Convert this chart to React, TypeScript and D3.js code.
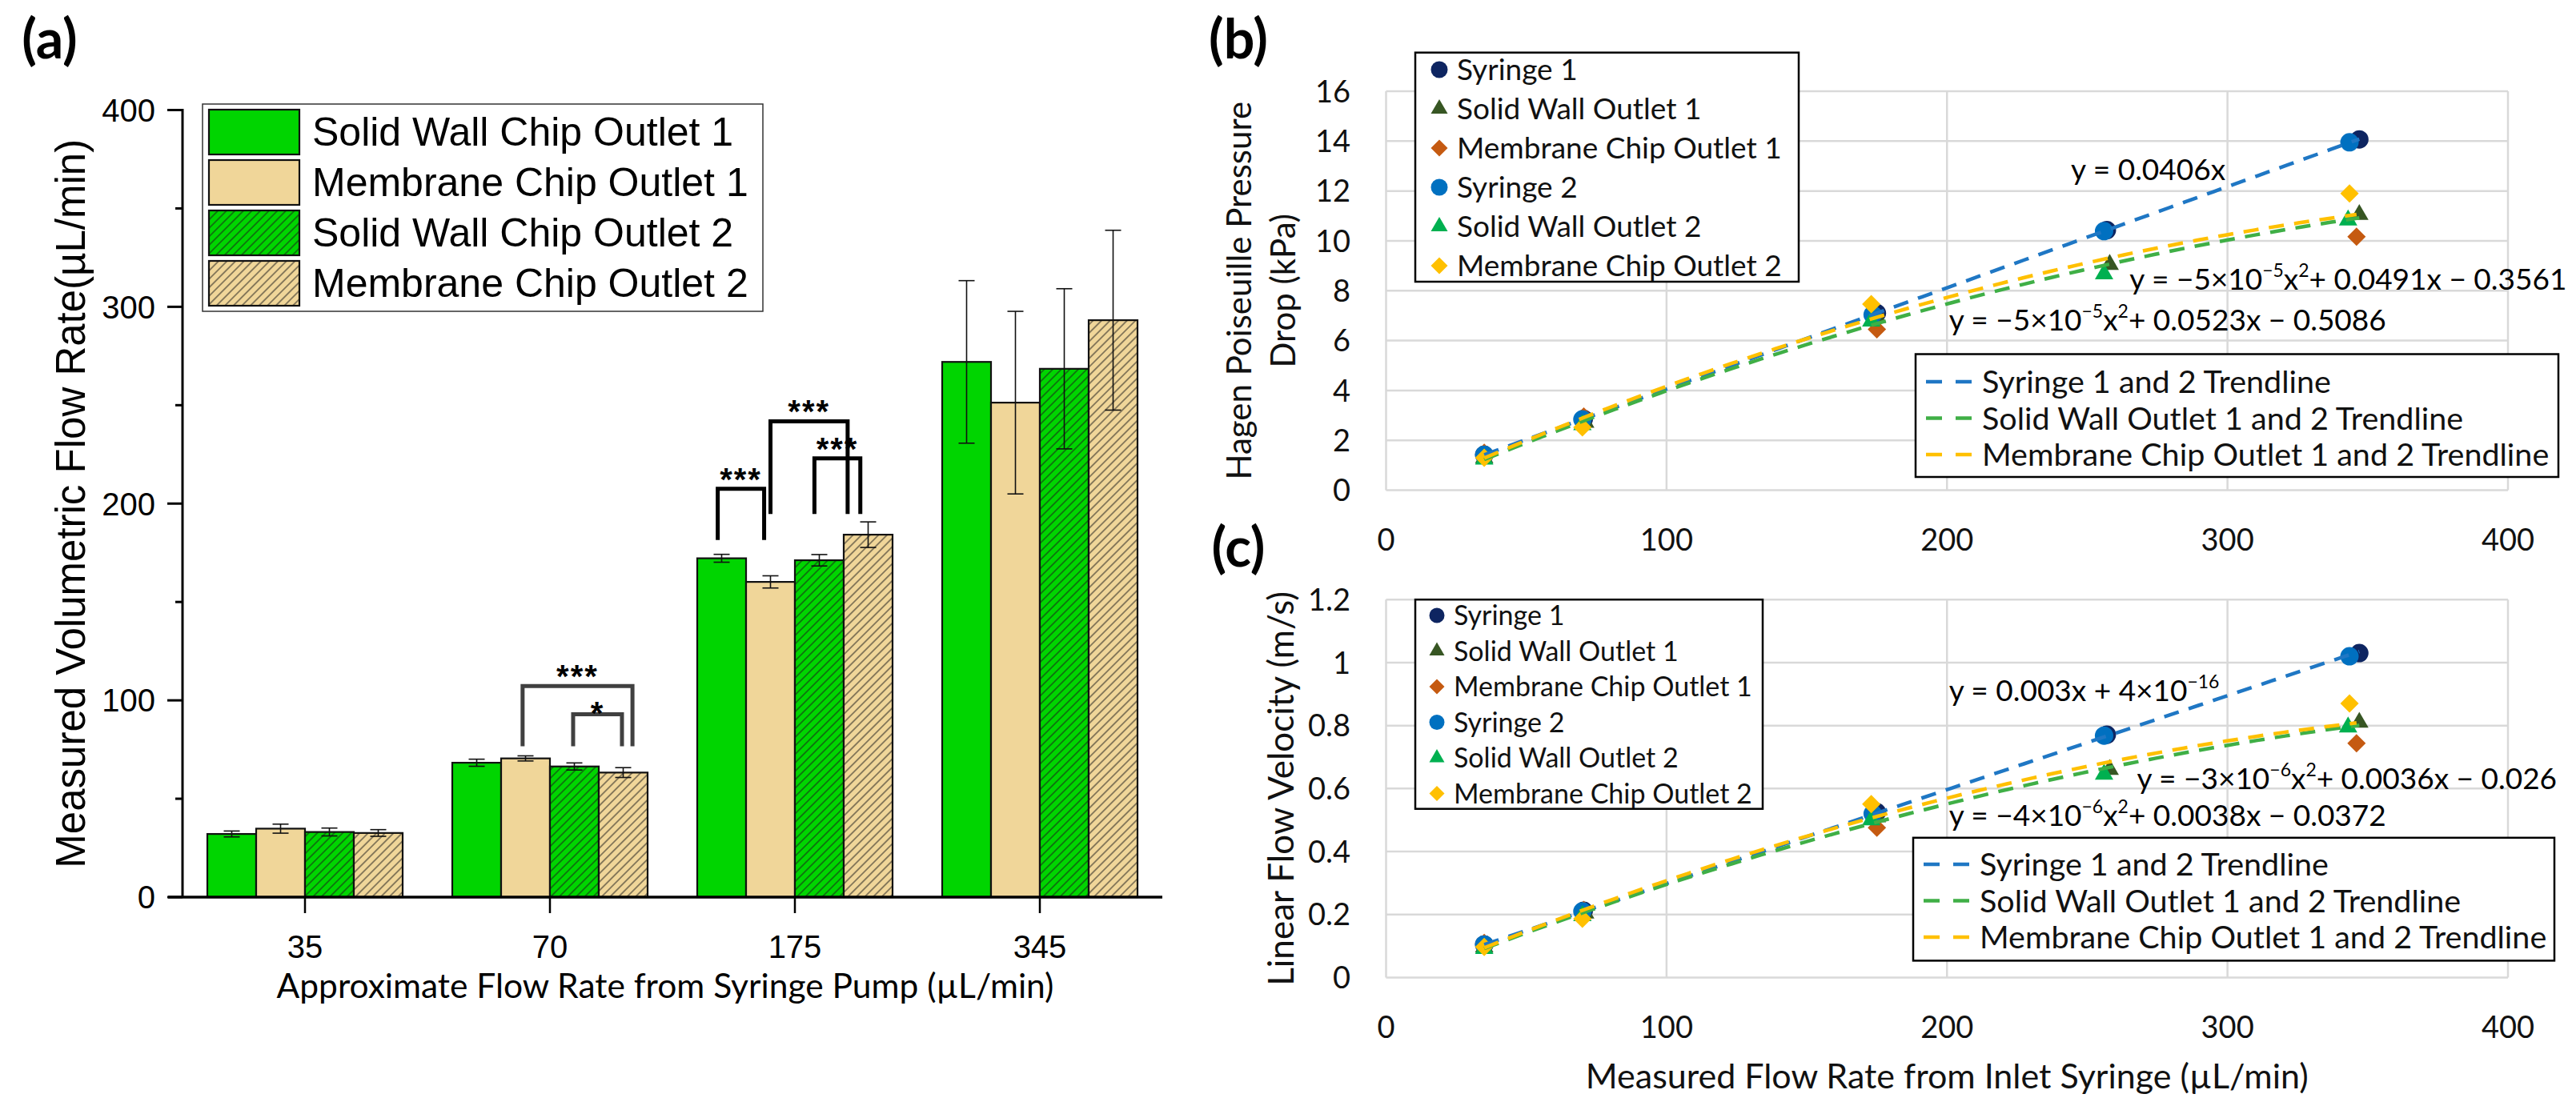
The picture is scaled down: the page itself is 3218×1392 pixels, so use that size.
import { useEffect } from "react";
import * as d3 from "d3";

const W = 3218;
const H = 1392;
const ARIAL = "'Liberation Sans', Arial, sans-serif";
const EXCEL = "Lato, 'Open Sans', sans-serif";

// ---------- panel (a): bar chart data ----------
const flowSettings = ["35", "70", "175", "345"];
const barSeriesNames = [
  "Solid Wall Chip Outlet 1",
  "Membrane Chip Outlet 1",
  "Solid Wall Chip Outlet 2",
  "Membrane Chip Outlet 2",
];
const solidWall1Mean = [32.1, 68.3, 172.2, 272.0];
const solidWall1Err = [1.5, 1.8, 2.0, 41.3];
const membrane1Mean = [34.8, 70.5, 160.2, 251.3];
const membrane1Err = [2.3, 1.3, 3.1, 46.4];
const solidWall2Mean = [33.1, 66.4, 171.2, 268.5];
const solidWall2Err = [2.0, 1.8, 2.9, 40.7];
const membrane2Mean = [32.6, 63.3, 184.2, 293.2];
const membrane2Err = [1.7, 2.5, 6.5, 45.7];

// significance brackets (bar-slot positions within a group, values in µL/min)
const sigCategory = ["70", "70", "175", "175", "175"];
const sigFrom = [0.94, 1.975, -0.08, 1.0, 1.9];
const sigTo = [3.19, 2.975, 0.87, 2.58, 2.84];
const sigTop = [107.3, 92.9, 207.5, 241.8, 223.0];
const sigLegEnd = [76.7, 76.7, 181.5, 194.7, 194.7];
const sigLabel = ["***", "*", "***", "***", "***"];

// ---------- panels (b) and (c): scatter data ----------
const scatterNames = [
  "Syringe 1",
  "Solid Wall Outlet 1",
  "Membrane Chip Outlet 1",
  "Syringe 2",
  "Solid Wall Outlet 2",
  "Membrane Chip Outlet 2",
];
const syringe1Flow = [35, 70.5, 175, 257, 347];
const syringe1Pressure = [1.42, 2.86, 7.1, 10.43, 14.07];
const syringe1Velocity = [0.105, 0.212, 0.525, 0.771, 1.03];
const solidWall1Flow = [35, 71, 175, 258, 347];
const solidWall1Pressure = [1.3, 2.72, 6.92, 9.05, 11.05];
const solidWall1Velocity = [0.097, 0.204, 0.51, 0.66, 0.81];
const membrane1Flow = [35, 70.5, 175, 346];
const membrane1Pressure = [1.5, 2.95, 6.45, 10.17];
const membrane1Velocity = [0.11, 0.215, 0.476, 0.744];
const syringe2Flow = [35, 70, 173.5, 256, 343.5];
const syringe2Pressure = [1.42, 2.84, 7.04, 10.39, 13.95];
const syringe2Velocity = [0.105, 0.21, 0.52, 0.768, 1.02];
const solidWall2Flow = [35, 70, 173, 256, 343];
const solidWall2Pressure = [1.24, 2.62, 6.78, 8.67, 10.83];
const solidWall2Velocity = [0.092, 0.196, 0.5, 0.645, 0.795];
const membrane2Flow = [35, 70, 173, 343.5];
const membrane2Pressure = [1.3, 2.52, 7.46, 11.9];
const membrane2Velocity = [0.097, 0.187, 0.551, 0.87];

const trendNames = [
  "Syringe 1 and 2 Trendline",
  "Solid Wall Outlet 1 and 2 Trendline",
  "Membrane Chip Outlet 1 and 2 Trendline",
];

type Seg = [string, boolean];
const pressureEquations: Seg[][] = [
  [["y = 0.0406x", false]],
  [["y = −5×10", false], ["−5", true], ["x", false], ["2", true], ["+ 0.0491x − 0.3561", false]],
  [["y = −5×10", false], ["−5", true], ["x", false], ["2", true], ["+ 0.0523x − 0.5086", false]],
];
const pressureEqX = [244.2, 265.1, 200.7];
const pressureEqY = [12.45, 8.04, 6.41];
const velocityEquations: Seg[][] = [
  [["y = 0.003x + 4×10", false], ["−16", true]],
  [["y = −3×10", false], ["−6", true], ["x", false], ["2", true], ["+ 0.0036x − 0.026", false]],
  [["y = −4×10", false], ["−6", true], ["x", false], ["2", true], ["+ 0.0038x − 0.0372", false]],
];
const velocityEqX = [200.7, 267.7, 200.7];
const velocityEqY = [0.878, 0.599, 0.4825];

// ---------- styles ----------
const GREEN = "#00D500";
const TAN = "#F0D699";
const markerColors = ["#0E2561", "#375623", "#C55A11", "#0070C0", "#00B050", "#FFC000"];
const markerShapes = ["circle", "triangle", "diamond", "circle", "triangle", "diamond"];
const trendColors = ["#1F77C4", "#3FAF46", "#FFC000"];
const GRID = "#D9D9D9";

function symbolPath(shape: string, size: number) {
  if (shape === "circle") return d3.symbol(d3.symbolCircle, (Math.PI * size * size) / 4)()!;
  if (shape === "triangle") return d3.symbol(d3.symbolTriangle, (Math.sqrt(3) / 4) * size * size)()!;
  return d3.symbol(d3.symbolSquare, (size * size) / 2)()!;
}

function Marker({ shape, x, y, size, color }: { shape: string; x: number; y: number; size: number; color: string }) {
  const rot = shape === "diamond" ? " rotate(45)" : "";
  return <path d={symbolPath(shape, size)} transform={`translate(${x},${y})${rot}`} fill={color} />;
}

// least squares fits (Excel trendlines)
function fitProportional(xs: number[], ys: number[]) {
  const m = d3.sum(xs, (x, i) => x * ys[i]) / d3.sum(xs, (x) => x * x);
  return (x: number) => m * x;
}

function fitQuadratic(xs: number[], ys: number[]) {
  const s = (p: number) => d3.sum(xs, (x) => x ** p);
  const t = (p: number) => d3.sum(xs, (x, i) => x ** p * ys[i]);
  const M = [
    [s(4), s(3), s(2), t(2)],
    [s(3), s(2), s(1), t(1)],
    [s(2), s(1), xs.length, t(0)],
  ];
  for (let c = 0; c < 3; c++) {
    for (let r = 0; r < 3; r++) {
      if (r === c) continue;
      const f = M[r][c] / M[c][c];
      for (let k = c; k < 4; k++) M[r][k] -= f * M[c][k];
    }
  }
  const a = M[0][3] / M[0][0];
  const b = M[1][3] / M[1][1];
  const c0 = M[2][3] / M[2][2];
  return (x: number) => a * x * x + b * x + c0;
}

// ---------- panel (a) ----------
function BarPanel() {
  const y = d3.scaleLinear().domain([0, 400]).range([1121, 137.5]);
  const x0 = d3.scaleBand().domain(flowSettings).range([228, 1452]);
  const x1 = d3.scaleBand().domain(barSeriesNames).range([0, 244]);
  const inset = (x0.bandwidth() - 244) / 2;
  const bw = x1.bandwidth();

  const series = [
    { name: barSeriesNames[0], mean: solidWall1Mean, err: solidWall1Err, fill: GREEN },
    { name: barSeriesNames[1], mean: membrane1Mean, err: membrane1Err, fill: TAN },
    { name: barSeriesNames[2], mean: solidWall2Mean, err: solidWall2Err, fill: "url(#hatch-green)" },
    { name: barSeriesNames[3], mean: membrane2Mean, err: membrane2Err, fill: "url(#hatch-tan)" },
  ];

  const slotX = (cat: string, slot: number) => x0(cat)! + inset + (slot + 0.5) * bw;
  const majorTicks = y.ticks(4);
  const minorTicks = d3.range(50, 400, 100);
  const starSize = 40;

  return (
    <g>
      <text x={62} y={73} fontFamily={EXCEL} fontWeight={700} fontSize={68} textAnchor="middle">
        (a)
      </text>

      {/* bars */}
      {series.map((s) =>
        flowSettings.map((cat, i) => (
          <rect
            key={s.name + cat}
            x={x0(cat)! + inset + x1(s.name)!}
            y={y(s.mean[i])}
            width={bw}
            height={y(0) - y(s.mean[i])}
            fill={s.fill}
            stroke="#111"
            strokeWidth={2.2}
          />
        ))
      )}

      {/* error bars */}
      {series.map((s, si) =>
        flowSettings.map((cat, i) => {
          const cx = slotX(cat, si);
          const y1 = y(s.mean[i] + s.err[i]);
          const y2 = y(s.mean[i] - s.err[i]);
          return (
            <g key={"e" + s.name + cat} stroke="#111" strokeWidth={1.6}>
              <line x1={cx} x2={cx} y1={y1} y2={y2} />
              <line x1={cx - 10} x2={cx + 10} y1={y1} y2={y1} />
              <line x1={cx - 10} x2={cx + 10} y1={y2} y2={y2} />
            </g>
          );
        })
      )}

      {/* significance brackets */}
      {sigCategory.map((cat, i) => {
        const xa = slotX(cat, sigFrom[i]);
        const xb = slotX(cat, sigTo[i]);
        const yt = y(sigTop[i]);
        const yl = y(sigLegEnd[i]);
        const color = cat === "70" ? "#404040" : "#000";
        const nudge = sigLabel[i] === "*" ? 6 : -4;
        return (
          <g key={"sig" + i}>
            <path
              d={`M${xa},${yl}V${yt}H${xb}V${yl}`}
              fill="none"
              stroke={color}
              strokeWidth={5}
              strokeLinejoin="miter"
            />
            <text
              x={(xa + xb) / 2}
              y={yt - 17 + nudge + 0.575 * starSize}
              textAnchor="middle"
              fontFamily={ARIAL}
              fontWeight={700}
              fontSize={starSize}
              letterSpacing={2}
            >
              {sigLabel[i]}
            </text>
          </g>
        );
      })}

      {/* axes */}
      <line x1={228} x2={228} y1={y(400) - 1.5} y2={y(0)} stroke="#000" strokeWidth={3} />
      <line x1={210} x2={1452} y1={y(0)} y2={y(0)} stroke="#000" strokeWidth={3.5} />
      {majorTicks.map((t) => (
        <g key={"yt" + t}>
          <line x1={209} x2={228} y1={y(t)} y2={y(t)} stroke="#000" strokeWidth={3} />
          <text x={194} y={y(t) + 14.3} textAnchor="end" fontFamily={ARIAL} fontSize={40}>
            {t}
          </text>
        </g>
      ))}
      {minorTicks.map((t) => (
        <line key={"ym" + t} x1={219} x2={228} y1={y(t)} y2={y(t)} stroke="#000" strokeWidth={3} />
      ))}
      {flowSettings.map((cat) => {
        const cx = x0(cat)! + x0.bandwidth() / 2;
        return (
          <g key={"xt" + cat}>
            <line x1={cx} x2={cx} y1={y(0)} y2={y(0) + 20} stroke="#000" strokeWidth={2.5} />
            <text x={cx} y={1197} textAnchor="middle" fontFamily={ARIAL} fontSize={40}>
              {cat}
            </text>
          </g>
        );
      })}
      <text
        transform={`translate(106,${(y(0) + y(400)) / 2}) rotate(-90)`}
        textAnchor="middle"
        fontFamily={ARIAL}
        fontSize={51}
      >
        Measured Volumetric Flow Rate(µL/min)
      </text>
      <text x={831} y={1247} textAnchor="middle" fontFamily={EXCEL} fontSize={42.5}>
        Approximate Flow Rate from Syringe Pump (µL/min)
      </text>

      {/* legend */}
      <rect x={253} y={130} width={700} height={259} fill="#fff" stroke="#333" strokeWidth={1.5} />
      {series.map((s, i) => {
        const top = 137 + i * 63;
        return (
          <g key={"lg" + s.name}>
            <rect x={261} y={top} width={113} height={56} fill={s.fill} stroke="#111" strokeWidth={2.2} />
            <text x={390} y={top + 28 + 17} fontFamily={ARIAL} fontSize={50}>
              {s.name}
            </text>
          </g>
        );
      })}
    </g>
  );
}

// ---------- panels (b)/(c) ----------
interface ScatterCfg {
  letter: string;
  letterY: number;
  yMax: number;
  yStep: number;
  yRange: [number, number];
  values: number[][];
  equations: Seg[][];
  eqX: number[];
  eqY: number[];
  yLabel: string[];
  yLabelX: number[];
  yLabelSize: number;
  legend: { x: number; y: number; w: number; h: number; row0: number; step: number; mx: number; tx: number; fs: number; ms: number };
  trend: { x: number; y: number; w: number; h: number; row0: number };
  xTitle?: string;
}

const flows = [syringe1Flow, solidWall1Flow, membrane1Flow, syringe2Flow, solidWall2Flow, membrane2Flow];

function EqText({ segs, x, y, fs }: { segs: Seg[]; x: number; y: number; fs: number }) {
  let shift = 0;
  return (
    <text x={x} y={y} fontFamily={EXCEL} fontSize={fs}>
      {segs.map(([txt, sup], i) => {
        const target = sup ? -0.42 * fs : 0;
        const dy = target - shift;
        shift = target;
        return (
          <tspan key={i} dy={dy} fontSize={sup ? fs * 0.62 : fs}>
            {txt}
          </tspan>
        );
      })}
    </text>
  );
}

function ScatterPanel({ cfg }: { cfg: ScatterCfg }) {
  const x = d3.scaleLinear().domain([0, 400]).range([1731.5, 3133]);
  const y = d3.scaleLinear().domain([0, cfg.yMax]).range(cfg.yRange);
  const yTicks = d3.range(0, cfg.yMax + cfg.yStep / 2, cfg.yStep);
  const xTicks = x.ticks(4);
  const fmt = (v: number) => String(Math.round(v * 10) / 10);

  const groups = [
    [0, 3],
    [1, 4],
    [2, 5],
  ];
  const trends = groups.map(([a, b], gi) => {
    const xs = [...flows[a], ...flows[b]];
    const ys = [...cfg.values[a], ...cfg.values[b]];
    const f = gi === 0 ? fitProportional(xs, ys) : fitQuadratic(xs, ys);
    const [lo, hi] = d3.extent(xs) as [number, number];
    const pts = d3.range(0, 61).map((k) => lo + ((hi - lo) * k) / 60);
    const line = d3
      .line<number>()
      .x((v) => x(v))
      .y((v) => y(f(v)));
    return line(pts)!;
  });

  const lg = cfg.legend;
  const tr = cfg.trend;
  const midY = (cfg.yRange[0] + cfg.yRange[1]) / 2;

  return (
    <g>
      <text x={1547} y={cfg.letterY} fontFamily={EXCEL} fontWeight={700} fontSize={68} textAnchor="middle">
        {cfg.letter}
      </text>

      {/* gridlines */}
      {yTicks.map((t) => (
        <line key={"gy" + t} x1={x(0)} x2={x(400)} y1={y(t)} y2={y(t)} stroke={GRID} strokeWidth={2.5} />
      ))}
      {xTicks.map((t) => (
        <line key={"gx" + t} x1={x(t)} x2={x(t)} y1={y(0)} y2={y(cfg.yMax)} stroke={GRID} strokeWidth={2.5} />
      ))}

      {/* tick labels */}
      {yTicks.map((t) => (
        <text key={"ly" + t} x={1687} y={y(t) + 13.7} textAnchor="end" fontFamily={EXCEL} fontSize={38} fill="#111">
          {fmt(t)}
        </text>
      ))}
      {xTicks.map((t) => (
        <text key={"lx" + t} x={x(t)} y={y(0) + 75} textAnchor="middle" fontFamily={EXCEL} fontSize={38} fill="#111">
          {t}
        </text>
      ))}

      {/* axis titles */}
      {cfg.yLabel.map((line, i) => (
        <text
          key={"yl" + i}
          transform={`translate(${cfg.yLabelX[i]},${midY}) rotate(-90)`}
          textAnchor="middle"
          fontFamily={EXCEL}
          fontSize={cfg.yLabelSize}
          fill="#111"
        >
          {line}
        </text>
      ))}
      {cfg.xTitle && (
        <text x={(x(0) + x(400)) / 2} y={1360} textAnchor="middle" fontFamily={EXCEL} fontSize={43} fill="#111">
          {cfg.xTitle}
        </text>
      )}

      {/* markers */}
      {flows.map((fx, si) =>
        fx.map((v, i) => (
          <Marker
            key={"m" + si + "-" + i}
            shape={markerShapes[si]}
            x={x(v)}
            y={y(cfg.values[si][i])}
            size={23}
            color={markerColors[si]}
          />
        ))
      )}

      {/* trendlines */}
      {trends.map((d, i) => (
        <path key={"tr" + i} d={d} fill="none" stroke={trendColors[i]} strokeWidth={4.5} strokeDasharray="19,13" />
      ))}

      {/* equations */}
      {cfg.equations.map((segs, i) => (
        <EqText key={"eq" + i} segs={segs} x={x(cfg.eqX[i])} y={y(cfg.eqY[i])} fs={37} />
      ))}

      {/* marker legend */}
      <rect x={lg.x} y={lg.y} width={lg.w} height={lg.h} fill="#fff" stroke="#000" strokeWidth={2.5} />
      {scatterNames.map((name, i) => {
        const cy = lg.row0 + i * lg.step;
        return (
          <g key={"sl" + i}>
            <Marker shape={markerShapes[i]} x={lg.mx} y={cy} size={lg.ms} color={markerColors[i]} />
            <text x={lg.tx} y={cy + 0.36 * lg.fs} fontFamily={EXCEL} fontSize={lg.fs} fill="#111">
              {name}
            </text>
          </g>
        );
      })}

      {/* trendline legend */}
      <rect x={tr.x} y={tr.y} width={tr.w} height={tr.h} fill="#fff" stroke="#000" strokeWidth={2.5} />
      {trendNames.map((name, i) => {
        const cy = tr.row0 + i * 45.5;
        return (
          <g key={"tl" + i}>
            <line
              x1={tr.x + 13}
              x2={tr.x + 70}
              y1={cy}
              y2={cy}
              stroke={trendColors[i]}
              strokeWidth={4.5}
              strokeDasharray="20,17"
            />
            <text x={tr.x + 83} y={cy + 14} fontFamily={EXCEL} fontSize={39.5} fill="#111">
              {name}
            </text>
          </g>
        );
      })}
    </g>
  );
}

const pressurePanel: ScatterCfg = {
  letter: "(b)",
  letterY: 73,
  yMax: 16,
  yStep: 2,
  yRange: [612.5, 114],
  values: [syringe1Pressure, solidWall1Pressure, membrane1Pressure, syringe2Pressure, solidWall2Pressure, membrane2Pressure],
  equations: pressureEquations,
  eqX: pressureEqX,
  eqY: pressureEqY,
  yLabel: ["Hagen Poiseuille Pressure", "Drop (kPa)"],
  yLabelX: [1563, 1618],
  yLabelSize: 42,
  legend: { x: 1768, y: 65.7, w: 479, h: 286.3, row0: 87, step: 49, mx: 1798, tx: 1820, fs: 37, ms: 21 },
  trend: { x: 2393, y: 442.5, w: 803, h: 153.5, row0: 477 },
};

const velocityPanel: ScatterCfg = {
  letter: "(c)",
  letterY: 708,
  yMax: 1.2,
  yStep: 0.2,
  yRange: [1221.5, 749.2],
  values: [syringe1Velocity, solidWall1Velocity, membrane1Velocity, syringe2Velocity, solidWall2Velocity, membrane2Velocity],
  equations: velocityEquations,
  eqX: velocityEqX,
  eqY: velocityEqY,
  yLabel: ["Linear Flow Velocity (m/s)"],
  yLabelX: [1616],
  yLabelSize: 44,
  legend: { x: 1768, y: 749.2, w: 434, h: 261.5, row0: 769, step: 44.5, mx: 1795, tx: 1816, fs: 34, ms: 19 },
  trend: { x: 2390, y: 1046.8, w: 801, h: 153.6, row0: 1080 },
  xTitle: "Measured Flow Rate from Inlet Syringe (µL/min)",
};

export default function App() {
  useEffect(() => {
    document.body.style.margin = "0";
  }, []);
  return (
    <div style={{ position: "absolute", left: 0, top: 0 }}>
      <svg width={W} height={H} viewBox={`0 0 ${W} ${H}`} style={{ display: "block", background: "#fff" }}>
        <defs>
          <pattern id="hatch-green" patternUnits="userSpaceOnUse" width={7.5} height={7.5} patternTransform="rotate(45)">
            <rect width={7.5} height={7.5} fill={GREEN} />
            <line x1={3.75} x2={3.75} y1={0} y2={7.5} stroke="#1a1a1a" strokeOpacity={0.8} strokeWidth={1.2} />
          </pattern>
          <pattern id="hatch-tan" patternUnits="userSpaceOnUse" width={7.5} height={7.5} patternTransform="rotate(45)">
            <rect width={7.5} height={7.5} fill={TAN} />
            <line x1={3.75} x2={3.75} y1={0} y2={7.5} stroke="#1a1a1a" strokeOpacity={0.8} strokeWidth={1.2} />
          </pattern>
        </defs>
        <rect width={W} height={H} fill="#fff" />
        <BarPanel />
        <ScatterPanel cfg={pressurePanel} />
        <ScatterPanel cfg={velocityPanel} />
      </svg>
    </div>
  );
}
